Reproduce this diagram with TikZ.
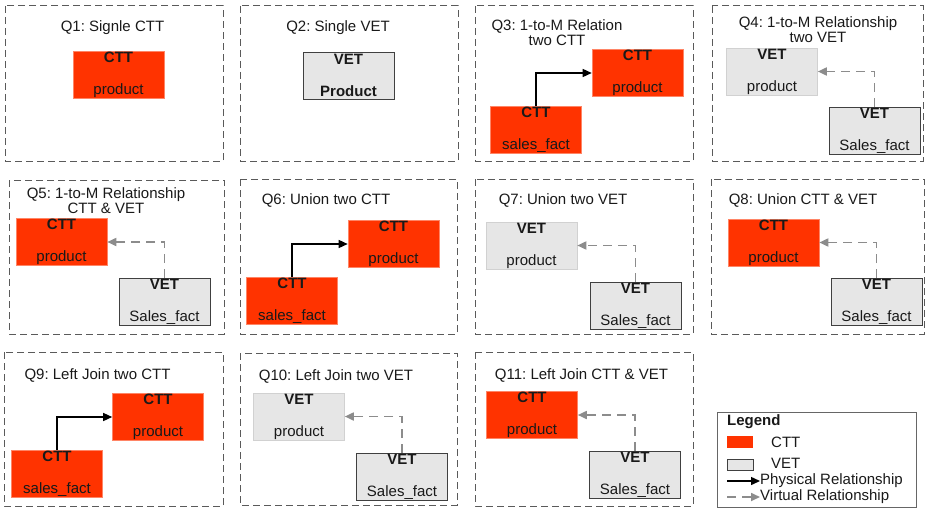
\documentclass[tikz,border=0pt]{standalone}
\usepackage{fontspec}
\setmainfont{Liberation Sans}
\usetikzlibrary{arrows.meta}
\definecolor{cttred}{HTML}{FF3300}
\definecolor{vetgray}{HTML}{E6E6E6}
\definecolor{vetline}{HTML}{404040}
\definecolor{virtgray}{HTML}{8C8C8C}
\definecolor{panelline}{HTML}{5A5A5A}
\frenchspacing

\begin{document}
\begin{tikzpicture}[x=1pt, y=-1pt,
    every node/.style={font=\fontsize{15}{17}\selectfont, text=black!90},
    panel/.style={draw=panelline, line width=1pt, dash pattern=on 7pt off 4pt},
    title/.style={align=center, inner sep=0pt, font=\fontsize{15}{15}\selectfont},
    entity/.style={minimum width=91pt, minimum height=47pt, inner sep=0pt, align=center, font=\fontsize{15}{32}\selectfont},
    ctt/.style={entity, fill=cttred, draw=cttred!60!white, line width=0.6pt},
    vet/.style={entity, fill=vetgray, draw=vetline, line width=0.9pt},
    vetlight/.style={entity, fill=vetgray, draw=black!18, line width=0.6pt},
    phys/.style={draw=black, line width=1.4pt, -{Triangle[length=9pt,width=8pt]}},
    virt/.style={draw=virtgray, line width=1.7pt, dash pattern=on 9pt off 6pt, -{Triangle[length=9pt,width=8pt]}},
]
    \useasboundingbox (0,0) rectangle (928,508);

    % Q1: a single CTT
    \draw[panel] (5,6) rectangle (223,161);
    \node[title] (t1) at (112.5,28) {Q1: Signle CTT};
    \node[ctt] (q1prod) at (118.5,74.5) {\textbf{CTT}\\product};

    % Q2: a single VET
    \draw[panel] (240,6) rectangle (458,161);
    \node[title] (t2) at (338,28) {Q2: Single VET};
    \node[vet] (q2prod) at (348.5,75.5) {\textbf{VET}\\\textbf{Product}};

    % Q3: 1-to-M, both CTT
    \draw[panel] (475,6) rectangle (693,161);
    \node[title] (t3) at (557,32.4) {Q3: 1-to-M Relation\\two CTT};
    \node[ctt] (q3prod) at (637.5,73) {\textbf{CTT}\\product};
    \node[ctt] (q3sales) at (536,129.5) {\textbf{CTT}\\sales\_fact};
    \draw[phys] (q3sales.north) |- (q3prod.west);

    % Q4: 1-to-M, both VET
    \draw[panel] (712,6) rectangle (923,161);
    \node[title] (t4) at (818,29.4) {Q4: 1-to-M Relationship\\two VET};
    \node[vetlight] (q4prod) at (772,71.5) {\textbf{VET}\\product};
    \node[vet] (q4sales) at (874.5,130.5) {\textbf{VET}\\Sales\_fact};
    \draw[virt] (q4sales.north) |- (q4prod.east);

    % Q5: 1-to-M, CTT and VET
    \draw[panel] (9,180) rectangle (224,334);
    \node[title] (t5) at (106,200.4) {Q5: 1-to-M Relationship\\CTT \& VET};
    \node[ctt] (q5prod) at (61.5,242) {\textbf{CTT}\\product};
    \node[vet] (q5sales) at (164.5,301.5) {\textbf{VET}\\Sales\_fact};
    \draw[virt] (q5sales.north) |- (q5prod.east);

    % Q6: union of two CTT
    \draw[panel] (240,179) rectangle (457,334);
    \node[title] (t6) at (326,200) {Q6: Union two CTT};
    \node[ctt] (q6prod) at (393.5,244) {\textbf{CTT}\\product};
    \node[ctt] (q6sales) at (292,300.5) {\textbf{CTT}\\sales\_fact};
    \draw[phys] (q6sales.north) |- (q6prod.west);

    % Q7: union of two VET
    \draw[panel] (475,179) rectangle (693,334);
    \node[title] (t7) at (563,200) {Q7: Union two VET};
    \node[vetlight] (q7prod) at (531.5,245.5) {\textbf{VET}\\product};
    \node[vet] (q7sales) at (635.5,305.5) {\textbf{VET}\\Sales\_fact};
    \draw[virt] (q7sales.north) |- (q7prod.east);

    % Q8: union of CTT and VET
    \draw[panel] (711,179) rectangle (924,334);
    \node[title] (t8) at (803,200) {Q8: Union CTT \& VET};
    \node[ctt] (q8prod) at (773.5,242.5) {\textbf{CTT}\\product};
    \node[vet] (q8sales) at (876.5,302) {\textbf{VET}\\Sales\_fact};
    \draw[virt] (q8sales.north) |- (q8prod.east);

    % Q9: left join of two CTT
    \draw[panel] (4,352) rectangle (223,506);
    \node[title] (t9) at (97.5,375) {Q9: Left Join two CTT};
    \node[ctt] (q9prod) at (158,417) {\textbf{CTT}\\product};
    \node[ctt] (q9sales) at (57,474) {\textbf{CTT}\\sales\_fact};
    \draw[phys] (q9sales.north) |- (q9prod.west);

    % Q10: left join of two VET
    \draw[panel] (240,353) rectangle (457,505);
    \node[title] (t10) at (336,376) {Q10: Left Join two VET};
    \node[vetlight] (q10prod) at (299,416.5) {\textbf{VET}\\product};
    \node[vet] (q10sales) at (402,476.5) {\textbf{VET}\\Sales\_fact};
    \draw[virt] (q10sales.north) |- (q10prod.east);

    % Q11: left join of CTT and VET
    \draw[panel] (475,352) rectangle (693,506);
    \node[title] (t11) at (581.5,375) {Q11: Left Join CTT \& VET};
    \node[ctt] (q11prod) at (532,415) {\textbf{CTT}\\product};
    \node[vet] (q11sales) at (635,474.5) {\textbf{VET}\\Sales\_fact};
    \draw[virt] (q11sales.north) |- (q11prod.east);

    % Legend
    \draw[draw=black!60, line width=0.8pt] (717,412) rectangle (916,507);
    \node[anchor=west, inner sep=0pt] (lgtitle) at (727,422) {\textbf{Legend}};
    \node[fill=cttred, minimum width=26pt, minimum height=12pt, inner sep=0pt] (lgctt) at (740,442) {};
    \node[anchor=west, inner sep=0pt] (lgcttlabel) at (771,442) {CTT};
    \node[fill=vetgray, draw=vetline, line width=0.8pt, minimum width=26pt, minimum height=11pt, inner sep=0pt] (lgvet) at (740,464.5) {};
    \node[anchor=west, inner sep=0pt] (lgvetlabel) at (771,463.5) {VET};
    \coordinate (lgphys) at (727,481);
    \node[anchor=west, inner sep=0pt] (lgphyslabel) at (760,481) {Physical Relationship};
    \draw[phys] (lgphys) -- (lgphyslabel.west);
    \coordinate (lgvirt) at (727,497);
    \node[anchor=west, inner sep=0pt] (lgvirtlabel) at (760,497) {Virtual Relationship};
    \draw[virt] (lgvirt) -- (lgvirtlabel.west);
\end{tikzpicture}
\end{document}
